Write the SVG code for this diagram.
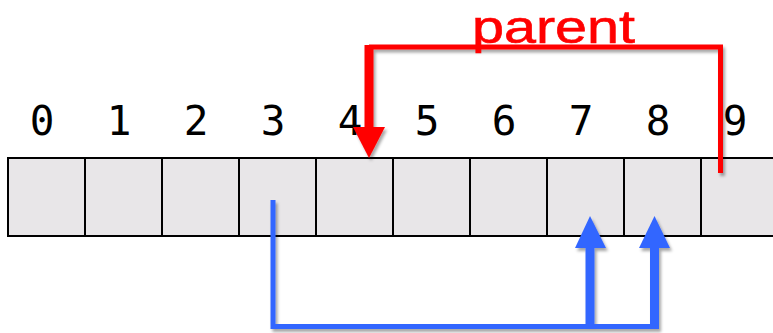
<svg xmlns="http://www.w3.org/2000/svg" width="773" height="333" viewBox="0 0 773 333">
  <style>
    .cell { fill: #e8e6e8; stroke: #000; stroke-width: 2; }
    .idx { font-family: "DejaVu Sans Mono", "Liberation Mono", monospace; font-size: 41px; fill: #000; text-anchor: middle; }
    .red { stroke: #ff0000; fill: none; }
    .blue { stroke: #3366ff; fill: none; }
    .lbl { font-family: "Liberation Sans", "Open Sans", sans-serif; font-size: 46px; fill: #ff0000; stroke: #ff0000; stroke-width: 0.6; }
  </style>
  <defs>
    <filter id="shadow" x="-20%" y="-20%" width="140%" height="140%">
      <feDropShadow dx="2" dy="3" stdDeviation="1.5" flood-color="#000" flood-opacity="0.35"/>
    </filter>
  </defs>
  <rect width="773" height="333" fill="#fff"/>

  <!-- array cells with their index labels -->
  <g id="cell0"><rect class="cell" x="8" y="158" width="77" height="78"/><text class="idx" x="42" y="135">0</text></g>
  <g id="cell1"><rect class="cell" x="85" y="158" width="77" height="78"/><text class="idx" x="119" y="135">1</text></g>
  <g id="cell2"><rect class="cell" x="162" y="158" width="77" height="78"/><text class="idx" x="196" y="135">2</text></g>
  <g id="cell3"><rect class="cell" x="239" y="158" width="77" height="78"/><text class="idx" x="273" y="135">3</text></g>
  <g id="cell4"><rect class="cell" x="316" y="158" width="77" height="78"/><text class="idx" x="350" y="135">4</text></g>
  <g id="cell5"><rect class="cell" x="393" y="158" width="77" height="78"/><text class="idx" x="427" y="135">5</text></g>
  <g id="cell6"><rect class="cell" x="470" y="158" width="77" height="78"/><text class="idx" x="504" y="135">6</text></g>
  <g id="cell7"><rect class="cell" x="547" y="158" width="77" height="78"/><text class="idx" x="581" y="135">7</text></g>
  <g id="cell8"><rect class="cell" x="624" y="158" width="77" height="78"/><text class="idx" x="658" y="135">8</text></g>
  <g id="cell9"><rect class="cell" x="701" y="158" width="77" height="78"/><text class="idx" x="735" y="135">9</text></g>

  <!-- connectors -->
  <g id="connectors" filter="url(#shadow)">
    <!-- parent link: 9 -> 4 -->
    <path class="red" d="M720.5 173 V47 H369" stroke-width="5"/>
    <path class="red" d="M369 45 V130" stroke-width="9"/>
    <polygon points="353,127 385,127 369,158" fill="#ff0000"/>
    <!-- links from 3 to 7 and 8 -->
    <path class="blue" d="M273 200 V326.5 H654" stroke-width="5"/>
    <path class="blue" d="M590 329 V245" stroke-width="9"/>
    <path class="blue" d="M654.5 329 V245" stroke-width="9"/>
    <polygon points="575,248 606,248 590,216" fill="#3366ff"/>
    <polygon points="639,248 670,248 654.5,216" fill="#3366ff"/>
  </g>

  <text class="lbl" x="472" y="43" textLength="163" lengthAdjust="spacingAndGlyphs">parent</text>
</svg>
